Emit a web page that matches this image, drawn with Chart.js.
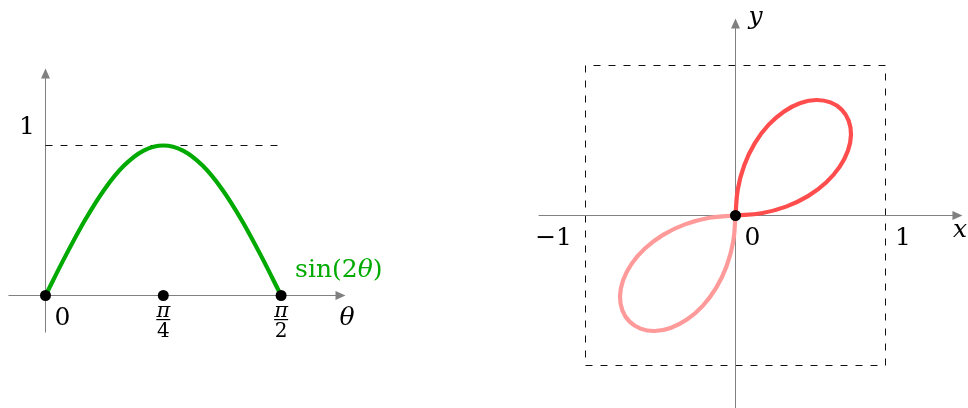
<!DOCTYPE html>
<html lang="en">
<head>
<meta charset="UTF-8">
<title>sin(2θ) and the rose r = sin(2θ)</title>
<script src="https://cdn.jsdelivr.net/npm/chart.js"></script>
<style>
  html, body { margin: 0; padding: 0; background: #fff; }
  #wrap { position: relative; width: 968px; height: 408px; }
  .panel { position: absolute; top: 0; width: 484px; height: 408px; }
</style>
</head>
<body>
<div id="wrap">
  <div class="panel" style="left:0"><canvas id="leftChart" width="484" height="408"></canvas></div>
  <div class="panel" style="left:484px"><canvas id="rightChart" width="484" height="408"></canvas></div>
</div>
<script>
// left panel: sin(2θ), read every π/24
const thetaVals = [0, 0.1309, 0.2618, 0.3927, 0.5236, 0.6545, 0.7854, 0.9163, 1.0472, 1.1781, 1.3090, 1.4399, 1.5708];
const sinVals   = [0, 0.259, 0.5, 0.707, 0.866, 0.966, 1, 0.966, 0.866, 0.707, 0.5, 0.259, 0];
const thetaTicks = [0, 0.7854, 1.5708];
const peakLevel = 1;

// right panel: petal of r = sin(2θ) in the first quadrant (θ every 5°)
const petalX = [0, 0.173, 0.337, 0.483, 0.604, 0.694, 0.750, 0.770, 0.754, 0.707, 0.633, 0.539, 0.433, 0.324, 0.220, 0.129, 0.059, 0.015, 0];
const petalY = [0, 0.015, 0.059, 0.129, 0.220, 0.324, 0.433, 0.539, 0.633, 0.707, 0.754, 0.770, 0.750, 0.694, 0.604, 0.483, 0.337, 0.173, 0];
// and the one in the third quadrant
const petal3X = [0, -0.173, -0.337, -0.483, -0.604, -0.694, -0.750, -0.770, -0.754, -0.707, -0.633, -0.539, -0.433, -0.324, -0.220, -0.129, -0.059, -0.015, 0];
const petal3Y = [0, -0.015, -0.059, -0.129, -0.220, -0.324, -0.433, -0.539, -0.633, -0.707, -0.754, -0.770, -0.750, -0.694, -0.604, -0.483, -0.337, -0.173, 0];
const boxX = [-1, 1, 1, -1, -1];
const boxY = [-1, -1, 1, 1, -1];

// axis extents
const leftXAxis = [-0.247, 2.0];
const leftYAxis = [-0.247, 1.513];
const rightXAxis = [-1.313, 1.513];
const rightYAxis = [-1.3, 1.313];

const GRAY = '#808080';
const DIGITS = '25px "DejaVu Serif"';
const ITAL = 'italic 25px "DejaVu Serif"';

function pts(xs, ys) { return xs.map((x, i) => ({ x: x, y: ys[i] })); }

// arrows on the axes and the text labels
const overlay = {
  id: 'overlay',
  afterDatasetsDraw(chart, args, opts) {
    const ctx = chart.ctx, xs = chart.scales.x, ys = chart.scales.y;
    ctx.save();
    (opts.arrows || []).forEach(a => {
      const tx = xs.getPixelForValue(a.x), ty = ys.getPixelForValue(a.y);
      ctx.fillStyle = GRAY;
      ctx.beginPath();
      if (a.dir === 'right') {
        ctx.moveTo(tx, ty); ctx.lineTo(tx - 10, ty - 4.5); ctx.lineTo(tx - 10, ty + 4.5);
      } else {
        ctx.moveTo(tx, ty); ctx.lineTo(tx - 4.5, ty + 10); ctx.lineTo(tx + 4.5, ty + 10);
      }
      ctx.closePath();
      ctx.fill();
    });
    (opts.labels || []).forEach(l => {
      let px = xs.getPixelForValue(l.x) + l.dx;
      const py = ys.getPixelForValue(l.y) + l.dy;
      ctx.fillStyle = l.color || '#000';
      ctx.textBaseline = 'alphabetic';
      if (l.frac) {
        ctx.textAlign = 'center';
        ctx.font = 'italic 21px "DejaVu Serif"';
        ctx.fillText(l.frac[0], px, py + 21.5);
        ctx.fillRect(px - 7, py + 23.5, 14, 1.2);
        ctx.font = '20px "DejaVu Serif"';
        ctx.fillText(l.frac[1], px, py + 41.5);
      } else if (l.parts) {
        ctx.textAlign = 'left';
        l.parts.forEach(p => {
          ctx.font = p[1];
          ctx.fillText(p[0], px, py);
          px += ctx.measureText(p[0]).width;
        });
      } else {
        ctx.font = l.font || DIGITS;
        ctx.textAlign = l.align || 'center';
        ctx.fillText(l.text, px, py);
      }
    });
    ctx.restore();
  }
};

function baseOptions(xmin, xmax, ymin, ymax, extra) {
  return {
    responsive: false,
    animation: false,
    events: [],
    layout: { padding: 0, autoPadding: false },
    scales: {
      x: { type: 'linear', display: false, min: xmin, max: xmax },
      y: { type: 'linear', display: false, min: ymin, max: ymax }
    },
    plugins: Object.assign({ legend: { display: false }, tooltip: { enabled: false } }, extra)
  };
}

new Chart(document.getElementById('leftChart'), {
  type: 'scatter',
  data: {
    datasets: [
      { data: thetaTicks.map(t => ({ x: t, y: 0 })), pointRadius: 5.5, pointBackgroundColor: '#000', pointBorderWidth: 0, showLine: false, order: 0, clip: false },
      { data: pts(thetaVals, sinVals), showLine: true, borderColor: '#00aa00', borderWidth: 4.2, pointRadius: 0, cubicInterpolationMode: 'monotone', order: 1, clip: false },
      { data: [{ x: 0, y: peakLevel }, { x: thetaTicks[2], y: peakLevel }], showLine: true, borderColor: '#111', borderWidth: 1, borderDash: [7, 8], pointRadius: 0, order: 2 },
      { data: [{ x: leftXAxis[0], y: 0 }, { x: leftXAxis[1] - 0.03, y: 0 }], showLine: true, borderColor: GRAY, borderWidth: 1, pointRadius: 0, order: 3 },
      { data: [{ x: 0, y: leftYAxis[0] }, { x: 0, y: leftYAxis[1] - 0.03 }], showLine: true, borderColor: GRAY, borderWidth: 1, pointRadius: 0, order: 3 }
    ]
  },
  options: baseOptions(-45.5 / 150, 438.5 / 150, -112.5 / 150, 295.5 / 150, {
    overlay: {
      arrows: [{ x: leftXAxis[1], y: 0, dir: 'right' }, { x: 0, y: leftYAxis[1], dir: 'up' }],
      labels: [
        { text: '1', x: 0, y: peakLevel, dx: -18.5, dy: -11.5 },
        { text: '0', x: thetaTicks[0], y: 0, dx: 17, dy: 29.5 },
        { frac: ['π', '4'], x: thetaTicks[1], y: 0, dx: 0, dy: 0 },
        { frac: ['π', '2'], x: thetaTicks[2], y: 0, dx: 0, dy: 0 },
        { text: 'θ', x: leftXAxis[1], y: 0, dx: 1.5, dy: 29.5, font: ITAL },
        { parts: [['sin(2', DIGITS], ['θ', ITAL], [')', DIGITS]], x: thetaTicks[2], y: 0, dx: 14, dy: -18.5, color: '#00aa00' }
      ]
    }
  }),
  plugins: [overlay]
});

new Chart(document.getElementById('rightChart'), {
  type: 'scatter',
  data: {
    datasets: [
      { data: [{ x: 0, y: 0 }], pointRadius: 5.5, pointBackgroundColor: '#000', pointBorderWidth: 0, showLine: false, order: 0, clip: false },
      { data: pts(petalX, petalY), showLine: true, borderColor: '#ff4d4d', borderWidth: 4.2, pointRadius: 0, tension: 0.4, order: 1, clip: false },
      { data: pts(petal3X, petal3Y), showLine: true, borderColor: '#ff9a9a', borderWidth: 4.2, pointRadius: 0, tension: 0.4, order: 2, clip: false },
      { data: [{ x: rightXAxis[0], y: 0 }, { x: rightXAxis[1] - 0.03, y: 0 }], showLine: true, borderColor: GRAY, borderWidth: 1, pointRadius: 0, order: 3 },
      { data: [{ x: 0, y: rightYAxis[0] }, { x: 0, y: rightYAxis[1] - 0.03 }], showLine: true, borderColor: GRAY, borderWidth: 1, pointRadius: 0, order: 3 },
      { data: pts(boxX, boxY), showLine: true, borderColor: '#111', borderWidth: 1, borderDash: [7, 8], pointRadius: 0, order: 4 }
    ]
  },
  options: baseOptions(-251.5 / 150, 232.5 / 150, -192.5 / 150, 215.5 / 150, {
    overlay: {
      arrows: [{ x: rightXAxis[1], y: 0, dir: 'right' }, { x: 0, y: rightYAxis[1], dir: 'up' }],
      labels: [
        { text: 'y', x: 0, y: rightYAxis[1], dx: 20, dy: 5, font: ITAL },
        { text: 'x', x: rightXAxis[1], y: 0, dx: -2.5, dy: 21.5, font: ITAL },
        { text: '−1', x: -1, y: 0, dx: -13.5, dy: 29.5, align: 'right' },
        { text: '0', x: 0, y: 0, dx: 17, dy: 29.5 },
        { text: '1', x: 1, y: 0, dx: 17.5, dy: 29.5 }
      ]
    }
  }),
  plugins: [overlay]
});
</script>
</body>
</html>
